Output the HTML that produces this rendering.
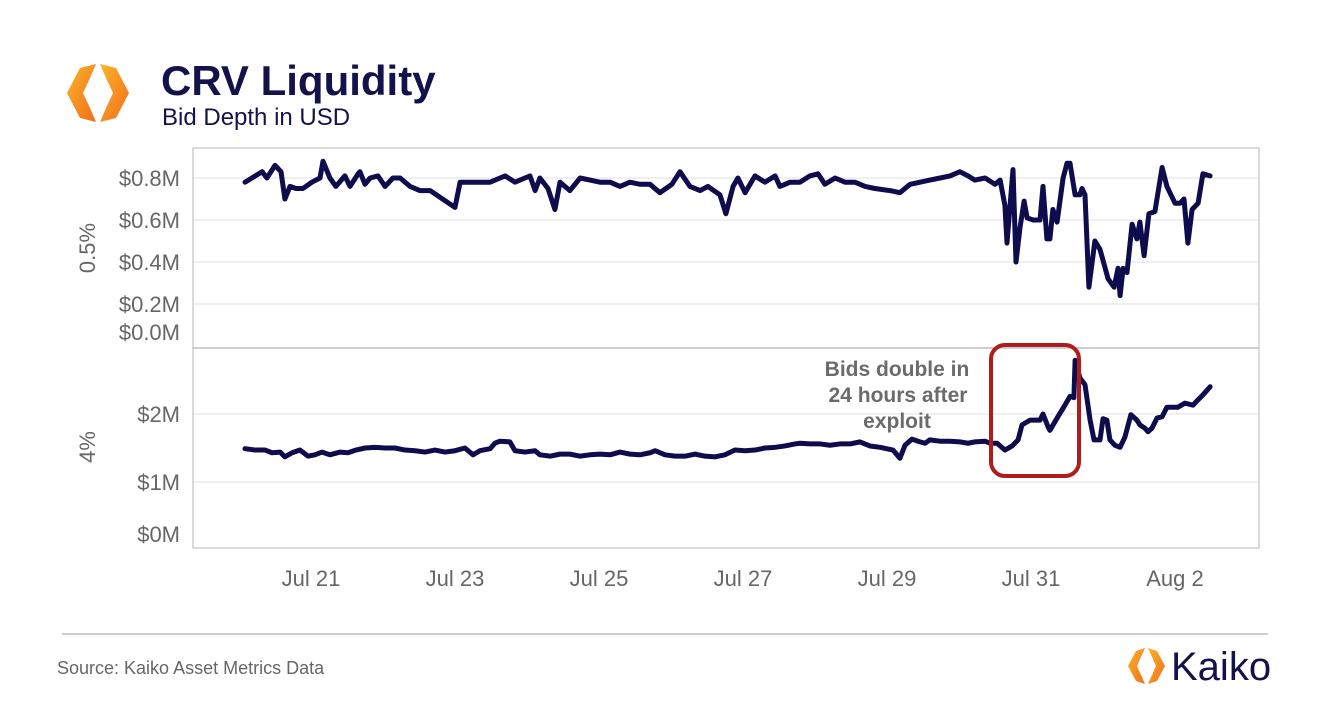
<!DOCTYPE html>
<html><head><meta charset="utf-8"><style>
body{margin:0;background:#fff;width:1320px;height:720px;overflow:hidden;font-family:"Liberation Sans",sans-serif}
</style></head><body>
<svg width="1320" height="720" viewBox="0 0 1320 720">
<defs><linearGradient id="og" x1="0" y1="0" x2="1" y2="1"><stop offset="0" stop-color="#fbb52a"/><stop offset="1" stop-color="#f26c1c"/></linearGradient></defs>
<g>
<polygon points="96,64 80,68 67,93 80,118 96,122 90,108 83,93 90,78" fill="url(#og)"/>
<polygon points="100,64 116,68 129,93 116,118 100,122 106,108 113,93 106,78" fill="url(#og)"/>
</g>
<text x="161" y="95" font-size="42" font-weight="bold" fill="#14124a">CRV Liquidity</text>
<text x="162" y="125" font-size="24" fill="#14124a">Bid Depth in USD</text>
<g id="grid"></g>
<rect x="193" y="148" width="1066" height="400" fill="none" stroke="#cfcfcf" stroke-width="1.5"/>
<line x1="193" y1="348" x2="1259" y2="348" stroke="#bdbdbd" stroke-width="1.5"/>
<g id="ylab" font-size="22" fill="#666" text-anchor="end"></g>
<text transform="translate(95,248) rotate(-90)" font-size="22" fill="#666" text-anchor="middle">0.5%</text>
<text transform="translate(95,447) rotate(-90)" font-size="22" fill="#666" text-anchor="middle">4%</text>
<g id="xlab" font-size="22" fill="#666" text-anchor="middle"></g>
<g id="lines"></g>
<rect x="991" y="345" width="88" height="131" rx="14" fill="none" stroke="#b01c1c" stroke-width="4"/>
<g font-size="21" font-weight="bold" fill="#6b6b6b" text-anchor="middle">
<text x="897" y="376">Bids double in</text><text x="898" y="402">24 hours after</text><text x="897" y="428">exploit</text></g>
<line x1="62" y1="634" x2="1268" y2="634" stroke="#bdbdbd" stroke-width="1.5"/>
<text x="57" y="674" font-size="18" fill="#666">Source: Kaiko Asset Metrics Data</text>
<g>
<polygon points="1145,648 1136,651 1128,666 1136,681 1145,684 1141,675 1137,666 1141,657" fill="url(#og)"/>
<polygon points="1148,648 1157,651 1165,666 1157,681 1148,684 1152,675 1156,666 1152,657" fill="url(#og)"/>
<text x="1171" y="680" font-size="40" fill="#14124a">Kaiko</text></g>
</svg>
<script>
const topHours=[2,4.3,7.7,9.3,12,14,15.3,17,19,21.3,24.3,27,28,30.3,32.3,35.3,37,39.7,40.3,42,43.7,46.3,48.7,51.3,53.7,57,60.3,63.7,72,73.7,77,80.3,83.7,87,88.7,92,95.3,97,98.7,100.3,103,105.3,107,110.3,113.7,117,120.3,123.7,127,130.3,133.7,137,140.3,144.3,147,150.3,153.7,156.3,160.3,162.3,164.7,166.3,168.7,172,175.3,178.7,180.3,183.7,187,190.3,193,195.3,198.7,202,205.3,208.7,212,217,220.3,223.7,227,230.3,233.7,237,240.3,243,245.3,248.7,252,253.7,255.3,256,258,259,260.3,261.7,262.7,264.7,267,268,269.3,270.3,271.3,272.7,274.7,276,277,278.7,280.3,281,282,283.3,285.3,287,289.7,291.7,293,293.7,294.7,296,297.7,299.3,300.3,301.7,303.3,305.3,307.7,309.3,312,313.7,315,316.3,317.7,319.7,321.3,323.7];
const topValues=[.78,.80,.83,.80,.86,.83,.70,.76,.75,.75,.78,.80,.88,.80,.76,.81,.76,.82,.83,.77,.80,.81,.76,.80,.80,.76,.74,.74,.66,.78,.78,.78,.78,.80,.81,.78,.80,.81,.74,.80,.75,.65,.78,.74,.80,.79,.78,.78,.76,.78,.77,.77,.73,.77,.83,.76,.74,.76,.72,.63,.76,.80,.73,.81,.78,.81,.76,.78,.78,.81,.82,.77,.80,.78,.78,.76,.75,.74,.73,.77,.78,.79,.80,.81,.83,.81,.79,.80,.77,.79,.67,.49,.84,.40,.56,.69,.61,.60,.60,.76,.51,.51,.65,.59,.80,.87,.87,.72,.72,.75,.72,.28,.50,.46,.32,.28,.37,.24,.37,.35,.58,.51,.59,.43,.63,.64,.85,.76,.68,.68,.70,.49,.65,.68,.82,.81];
const botHours=[2,5.3,8.7,11,13.7,15.3,17.7,20.3,23,25.3,27.7,30.3,33.7,36.3,39,42,45.3,48.7,52,55.3,58.7,62,65.3,68.7,72,75.3,78,80.3,83.7,85.3,87,90.3,92,95.3,98.7,100.3,103.7,107,110.3,113.7,117,120.3,123.7,127,130.3,133.7,137,138.7,142,145.3,148.7,152,155.3,158.7,162,165.3,168.7,172,175.3,178.7,182,185.3,187,190.3,193.7,197,200.3,203.7,207,210.3,213.7,218,220.3,222,224.3,227,228.7,230.3,233.7,237,240.3,243,245.3,248.7,250.3,252.7,255.3,257.7,259.7,261,263.7,267,268,269.7,270.3,272.7,275.3,277,278.3,278.7,280.3,282,283.7,285,287,288,289.3,290.3,292,293.7,295.3,297.3,299.3,300.3,302,303,304.3,306,307.7,309.3,311.3,313,315.3,318,319.7,321.3,323.7];
const botValues=[1.49,1.47,1.47,1.43,1.44,1.37,1.43,1.47,1.38,1.40,1.44,1.40,1.44,1.43,1.47,1.50,1.51,1.50,1.50,1.47,1.46,1.44,1.47,1.44,1.46,1.50,1.40,1.46,1.49,1.57,1.60,1.59,1.46,1.44,1.46,1.40,1.38,1.41,1.41,1.38,1.40,1.41,1.40,1.44,1.41,1.40,1.43,1.46,1.40,1.38,1.38,1.41,1.38,1.37,1.40,1.47,1.46,1.47,1.50,1.51,1.53,1.56,1.57,1.56,1.56,1.54,1.56,1.56,1.59,1.53,1.51,1.47,1.35,1.54,1.63,1.59,1.57,1.62,1.60,1.60,1.59,1.57,1.59,1.60,1.57,1.57,1.47,1.53,1.62,1.84,1.91,1.91,2.00,1.81,1.76,1.94,2.13,2.26,2.24,2.79,2.53,2.43,1.91,1.62,1.62,1.93,1.91,1.62,1.54,1.51,1.66,1.99,1.91,1.84,1.79,1.74,1.79,1.94,1.96,2.10,2.10,2.10,2.16,2.13,2.21,2.28,2.40];
const topTicks=[0.8,0.6,0.4,0.2];
const topTickLabels=["$0.8M","$0.6M","$0.4M","$0.2M"];
const botTicks=[2,1];
const botTickLabels=["$2M","$1M"];
const xTickDays=[1,3,5,7,9,11,13];
const xTickLabels=["Jul 21","Jul 23","Jul 25","Jul 27","Jul 29","Jul 31","Aug 2"];
const NS="http://www.w3.org/2000/svg";
const xH=h=>239+h*3;
const yTop=v=>178+(0.8-v)*210;
const yBot=v=>482-(v-1)*68;
function mk(tag,attrs,parent){const e=document.createElementNS(NS,tag);for(const k in attrs)e.setAttribute(k,attrs[k]);parent.appendChild(e);return e;}
const grid=document.getElementById('grid'),ylab=document.getElementById('ylab'),xlab=document.getElementById('xlab'),lines=document.getElementById('lines');
topTicks.forEach((t,i)=>{const g=mk('line',{x1:193,x2:1259,y1:yTop(t),y2:yTop(t),stroke:'#ececec','stroke-width':1.5},grid);


const tx=mk('text',{x:180,y:yTop(t)+8},ylab);tx.textContent=topTickLabels[i];

});
const z=mk('text',{x:180,y:340},ylab);z.textContent="$0.0M";


botTicks.forEach((t,i)=>{const g=mk('line',{x1:193,x2:1259,y1:yBot(t),y2:yBot(t),stroke:'#ececec','stroke-width':1.5},grid);


const tx=mk('text',{x:180,y:yBot(t)+8},ylab);tx.textContent=botTickLabels[i];

});
const z2=mk('text',{x:180,y:542},ylab);z2.textContent="$0M";


xTickDays.forEach((d,i)=>{const tx=mk('text',{x:xH(d*24),y:586},xlab);tx.textContent=xTickLabels[i];

});
const p1=mk('polyline',{points:topHours.map((h,i)=>xH(h)+','+yTop(topValues[i])).join(' '),fill:'none',stroke:'#0e0c4c','stroke-width':5,'stroke-linejoin':'round','stroke-linecap':'round'},lines);


const p2=mk('polyline',{points:botHours.map((h,i)=>xH(h)+','+yBot(botValues[i])).join(' '),fill:'none',stroke:'#0e0c4c','stroke-width':5,'stroke-linejoin':'round','stroke-linecap':'round'},lines);


</script>
</body></html>
